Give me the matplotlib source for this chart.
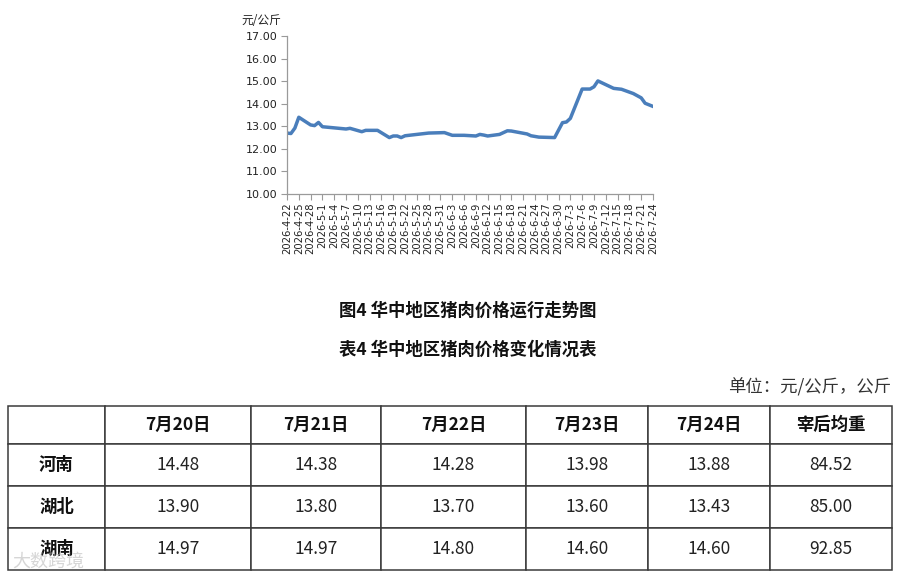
import matplotlib
matplotlib.use("Agg")
import matplotlib.pyplot as plt
import matplotlib.dates as mdates
import datetime as dt

plt.rcParams['font.family'] = ['Noto Sans CJK SC', 'DejaVu Sans']

# ---------------- data ----------------
line_dates = ["2026-4-22", "2026-4-23", "2026-4-24", "2026-4-25", "2026-4-28", "2026-4-29",
              "2026-4-30", "2026-5-1", "2026-5-7", "2026-5-8", "2026-5-11", "2026-5-12",
              "2026-5-15", "2026-5-18", "2026-5-19", "2026-5-20", "2026-5-21", "2026-5-22",
              "2026-5-28", "2026-6-1", "2026-6-3", "2026-6-6", "2026-6-9", "2026-6-10",
              "2026-6-11", "2026-6-12", "2026-6-15", "2026-6-17", "2026-6-18", "2026-6-22",
              "2026-6-23", "2026-6-25", "2026-6-29", "2026-7-1", "2026-7-2", "2026-7-3",
              "2026-7-6", "2026-7-8", "2026-7-9", "2026-7-10", "2026-7-14", "2026-7-16",
              "2026-7-19", "2026-7-21", "2026-7-22", "2026-7-24"]
line_values = [12.70, 12.68, 12.92, 13.40, 13.06, 13.03,
               13.17, 12.98, 12.88, 12.91, 12.76, 12.82,
               12.82, 12.50, 12.57, 12.57, 12.50, 12.58,
               12.70, 12.72, 12.60, 12.60, 12.57, 12.64,
               12.61, 12.57, 12.64, 12.80, 12.79, 12.66,
               12.58, 12.52, 12.50, 13.16, 13.19, 13.35,
               14.65, 14.65, 14.75, 15.01, 14.68, 14.64,
               14.45, 14.26, 14.02, 13.88]
y_ticks = [10.0, 11.0, 12.0, 13.0, 14.0, 15.0, 16.0, 17.0]
y_unit = "元/公斤"

chart_title = "图4 华中地区猪肉价格运行走势图"
table_title = "表4 华中地区猪肉价格变化情况表"
table_unit = "单位：元/公斤，公斤"
table_header = ["", "7月20日", "7月21日", "7月22日", "7月23日", "7月24日", "宰后均重"]
provinces = ["河南", "湖北", "湖南"]
henan = ["14.48", "14.38", "14.28", "13.98", "13.88", "84.52"]
hubei = ["13.90", "13.80", "13.70", "13.60", "13.43", "85.00"]
hunan = ["14.97", "14.97", "14.80", "14.60", "14.60", "92.85"]

# ---------------- figure ----------------
W, H = 900, 576
fig = plt.figure(figsize=(W / 100, H / 100), dpi=100)
fig.patch.set_facecolor("white")

def parse(s):
    y, m, d = map(int, s.split("-"))
    return dt.date(y, m, d)

xd = [parse(s) for s in line_dates]

ax = fig.add_axes([287 / W, 1 - 194 / H, 366 / W, 158 / H])
ax.plot(xd, line_values, color="#4A7EBB", lw=2.5, solid_joinstyle="round")
ax.set_xlim(xd[0], xd[-1])
ax.set_ylim(10, 17)
ax.set_yticks(y_ticks)
ax.set_yticklabels([f"{v:.2f}" for v in y_ticks], family="DejaVu Sans", fontsize=8, color="#222222")

first = mdates.date2num(xd[0])
ticks = [first + 3 * i for i in range(int((mdates.date2num(xd[-1]) - first) // 3) + 1)]
ax.set_xticks(ticks)
ax.set_xticklabels([f"{mdates.num2date(t).year}-{mdates.num2date(t).month}-{mdates.num2date(t).day}" for t in ticks],
                   rotation=90, family="DejaVu Sans", fontsize=7.2, color="#222222")

for s in ["top", "right"]:
    ax.spines[s].set_visible(False)
for s in ["left", "bottom"]:
    ax.spines[s].set_color("#9A9A9A")
    ax.spines[s].set_linewidth(0.9)
ax.tick_params(axis="both", color="#9A9A9A", length=4, width=0.8, pad=2)
ax.tick_params(axis="y", pad=3)
ax.set_facecolor("white")

fig.text(261 / W, 1 - 20 / H, y_unit, ha="center", va="center", fontsize=8.5, color="#222222")

# ---------------- titles ----------------
fig.text(468 / W, 1 - 311 / H, chart_title, ha="center", va="center", fontsize=12.5,
         fontweight="bold", color="#111111")
fig.text(468 / W, 1 - 350 / H, table_title, ha="center", va="center", fontsize=12.5,
         fontweight="bold", color="#111111")
fig.text(891 / W, 1 - 387 / H, table_unit, ha="right", va="center", fontsize=12.5, color="#333333")

# ---------------- table ----------------
col_edges = [8, 105, 251, 381, 526, 648, 770, 892]
row_edges = [406, 444, 486, 528, 570]
ov = fig.add_axes([0, 0, 1, 1])
ov.set_xlim(0, W)
ov.set_ylim(H, 0)
ov.axis("off")
ov.patch.set_alpha(0)

cells = [table_header] + [[p] + r for p, r in zip(provinces, [henan, hubei, hunan])]
col_w = [col_edges[i + 1] - col_edges[i] for i in range(len(col_edges) - 1)]
row_h = [row_edges[i + 1] - row_edges[i] for i in range(len(row_edges) - 1)]
tot_w = col_edges[-1] - col_edges[0]
tot_h = row_edges[-1] - row_edges[0]
tbl = ov.table(cellText=cells, cellLoc="center", colWidths=[w / tot_w for w in col_w],
               bbox=[col_edges[0] / W, (H - row_edges[-1]) / H, tot_w / W, tot_h / H])
tbl.auto_set_font_size(False)
for (r, c), cell in tbl.get_celld().items():
    cell.set_height(row_h[r] / tot_h)
    cell.set_edgecolor("#3A3A3A")
    cell.set_linewidth(1.1)
    cell.set_facecolor("white")
    t = cell.get_text()
    t.set_fontsize(12.5)
    t.set_color("#222222")
    if r == 0 or c == 0:
        t.set_fontweight("bold")
        t.set_color("#111111")

# faint watermark
fig.text(12 / W, 1 - 562 / H, "大数跨境", ha="left", va="center", fontsize=13,
         color="#BBBBBB", alpha=0.6, zorder=10)

fig.savefig("out.png", dpi=100, facecolor="white")
